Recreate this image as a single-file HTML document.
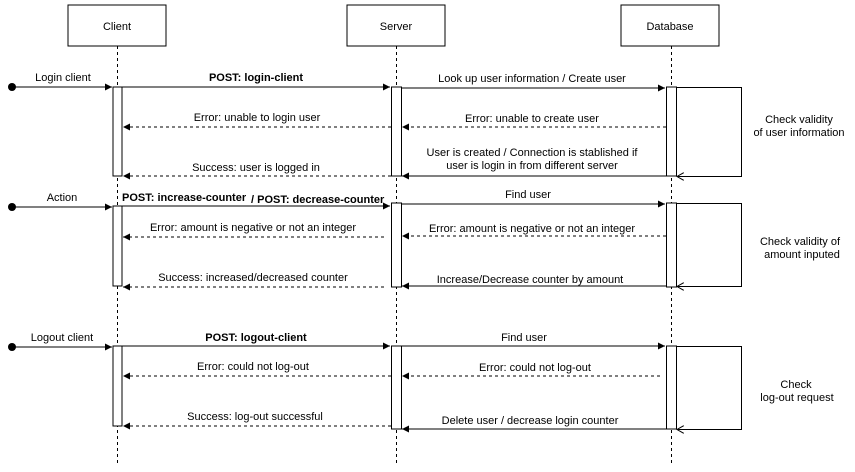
<!DOCTYPE html>
<html><head><meta charset="utf-8"><style>
html,body{margin:0;padding:0;background:#fff;}
svg{display:block;}
text{font-family:"Liberation Sans",Arial,sans-serif;font-size:11px;fill:#000;}
.b{font-weight:bold;}
</style></head><body>
<svg width="855" height="472" viewBox="0 0 855 472" xmlns="http://www.w3.org/2000/svg">
<defs>
<marker id="a" markerWidth="8" markerHeight="8" refX="7" refY="4" orient="auto" markerUnits="userSpaceOnUse"><path d="M0,0.5 L7,4 L0,7.5 Z" fill="#000"/></marker>
<marker id="o" markerWidth="8" markerHeight="8" refX="7" refY="4" orient="auto" markerUnits="userSpaceOnUse"><path d="M0,0 L7,4 L0,8" fill="none" stroke="#000" stroke-width="1"/></marker>
</defs>
<g stroke="#000" fill="#fff">
<rect x="68" y="5" width="98" height="41"/>
<rect x="347" y="5" width="98" height="41"/>
<rect x="621" y="5" width="98" height="41"/>
</g>
<text x="117" y="30" text-anchor="middle">Client</text>
<text x="396" y="30" text-anchor="middle">Server</text>
<text x="670" y="30" text-anchor="middle">Database</text>
<g stroke="#000" stroke-dasharray="3,3">
<line x1="117.5" y1="46" x2="117.5" y2="463"/>
<line x1="396.5" y1="46" x2="396.5" y2="463"/>
<line x1="671.5" y1="46" x2="671.5" y2="463"/>
</g>
<!-- self-loop boxes -->
<g stroke="#000" fill="none">
<polyline points="676,87.5 741.5,87.5 741.5,176.5 677,176.5" marker-end="url(#o)"/>
<polyline points="676,203.5 741.5,203.5 741.5,286.5 677,286.5" marker-end="url(#o)"/>
<polyline points="676,346.5 741.5,346.5 741.5,429.5 677,429.5" marker-end="url(#o)"/>
</g>
<!-- activations -->
<g stroke="#000" fill="#fff">
<rect x="113" y="87" width="9" height="89"/>
<rect x="391.5" y="87" width="10" height="89"/>
<rect x="666.5" y="87" width="10" height="89"/>
<rect x="113" y="206" width="9" height="80"/>
<rect x="391.5" y="203" width="10" height="84"/>
<rect x="666.5" y="203" width="10" height="84"/>
<rect x="113" y="346" width="9" height="80"/>
<rect x="391.5" y="346" width="10" height="83"/>
<rect x="666.5" y="346" width="10" height="83"/>
</g>
<!-- start dots -->
<g fill="#000"><circle cx="12" cy="87" r="4"/><circle cx="12" cy="207" r="4"/><circle cx="12" cy="347" r="4"/></g>
<g stroke="#000" fill="none">
<line x1="12" y1="87" x2="112" y2="87" marker-end="url(#a)"/>
<line x1="12" y1="207" x2="112" y2="207" marker-end="url(#a)"/>
<line x1="12" y1="347" x2="112" y2="347" marker-end="url(#a)"/>
<line x1="122" y1="87" x2="390" y2="87" marker-end="url(#a)"/>
<line x1="122" y1="206" x2="390" y2="206" marker-end="url(#a)"/>
<line x1="122" y1="346" x2="390" y2="346" marker-end="url(#a)"/>
<line x1="401" y1="88" x2="665" y2="88" marker-end="url(#a)"/>
<line x1="401" y1="204" x2="665" y2="204" marker-end="url(#a)"/>
<line x1="401" y1="346" x2="665" y2="346" marker-end="url(#a)"/>
<line x1="666" y1="176" x2="402" y2="176" marker-end="url(#a)"/>
<line x1="666" y1="286" x2="402" y2="286" marker-end="url(#a)"/>
<line x1="666" y1="429" x2="402" y2="429" marker-end="url(#a)"/>
</g>
<g stroke="#000" fill="none" stroke-dasharray="3,3">
<line x1="391" y1="127" x2="123" y2="127" marker-end="url(#a)"/>
<line x1="391" y1="176" x2="123" y2="176" marker-end="url(#a)"/>
<line x1="384" y1="237" x2="123" y2="237" marker-end="url(#a)"/>
<line x1="384" y1="287" x2="123" y2="287" marker-end="url(#a)"/>
<line x1="391" y1="376" x2="123" y2="376" marker-end="url(#a)"/>
<line x1="391" y1="426" x2="123" y2="426" marker-end="url(#a)"/>
<line x1="666" y1="127" x2="402" y2="127" marker-end="url(#a)"/>
<line x1="666" y1="236" x2="402" y2="236" marker-end="url(#a)"/>
<line x1="660" y1="376" x2="402" y2="376" marker-end="url(#a)"/>
</g>
<!-- labels -->
<text x="63" y="81" text-anchor="middle">Login client</text>
<text x="62" y="201" text-anchor="middle">Action</text>
<text x="62" y="341" text-anchor="middle">Logout client</text>
<text x="256" y="81" text-anchor="middle" class="b">POST: login-client</text>
<text x="122" y="201" class="b">POST: increase-counter</text>
<text x="251" y="203" class="b">/ POST: decrease-counter</text>
<text x="256" y="341" text-anchor="middle" class="b">POST: logout-client</text>
<text x="257" y="121" text-anchor="middle">Error: unable to login user</text>
<text x="256" y="171" text-anchor="middle">Success: user is logged in</text>
<text x="253" y="231" text-anchor="middle">Error: amount is negative or not an integer</text>
<text x="253" y="281" text-anchor="middle">Success: increased/decreased counter</text>
<text x="253" y="370" text-anchor="middle">Error: could not log-out</text>
<text x="255" y="420" text-anchor="middle">Success: log-out successful</text>
<text x="532" y="82" text-anchor="middle">Look up user information / Create user</text>
<text x="532" y="122" text-anchor="middle">Error: unable to create user</text>
<text x="532" y="156" text-anchor="middle">User is created / Connection is stablished if</text>
<text x="532" y="169" text-anchor="middle">user is login in from different server</text>
<text x="528" y="198" text-anchor="middle">Find user</text>
<text x="532" y="232" text-anchor="middle">Error: amount is negative or not an integer</text>
<text x="530" y="283" text-anchor="middle">Increase/Decrease counter by amount</text>
<text x="524" y="341" text-anchor="middle">Find user</text>
<text x="535" y="371" text-anchor="middle">Error: could not log-out</text>
<text x="530" y="424" text-anchor="middle">Delete user / decrease login counter</text>
<text x="799" y="123" text-anchor="middle">Check validity</text>
<text x="799" y="136" text-anchor="middle">of user information</text>
<text x="800" y="245" text-anchor="middle">Check validity of</text>
<text x="802" y="258" text-anchor="middle">amount inputed</text>
<text x="796" y="388" text-anchor="middle">Check</text>
<text x="797" y="401" text-anchor="middle">log-out request</text>
</svg>
</body></html>
